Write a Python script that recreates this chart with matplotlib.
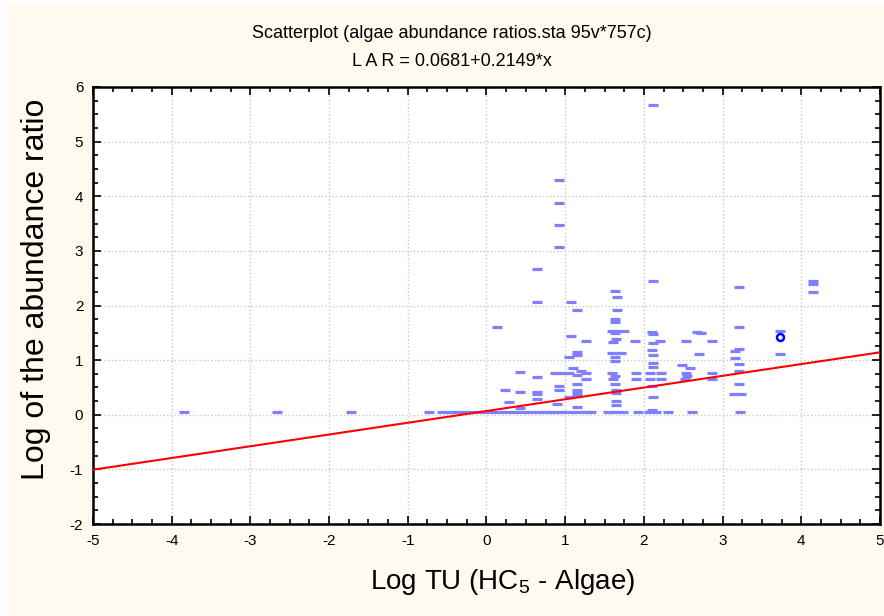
import numpy as np
import matplotlib
matplotlib.use('Agg')
import matplotlib.pyplot as plt
from matplotlib.patches import Rectangle
from matplotlib.ticker import MultipleLocator

plt.rcParams['font.family'] = ['Liberation Sans', 'DejaVu Sans']
plt.rcParams['mathtext.fontset'] = 'custom'
plt.rcParams['mathtext.rm'] = 'Liberation Sans'
plt.rcParams['axes.unicode_minus'] = False

# points sitting on the lowest row (log ratio ~ 0.05)
x_base = [-3.85, -2.66, -1.72, -0.73,
          -0.57, -0.47, -0.37, -0.27, -0.17, -0.05, 0.05, 0.15, 0.25, 0.35,
          0.45, 0.55, 0.65, 0.75, 0.85, 0.95, 1.05, 1.15, 1.25, 1.33,
          1.55, 1.63, 1.73, 1.93, 2.06, 2.16, 2.30, 2.61, 3.22]
y_base = [0.05] * len(x_base)

# remaining points
x_pts = [0.13, 0.42, 0.24, 0.42, 0.29, 0.42,
         0.64, 0.64, 0.64, 0.64, 0.64, 0.64,
         0.92, 0.92, 0.92, 0.92, 0.87, 0.96, 0.92, 0.92, 0.89,
         1.08, 1.15, 1.08, 1.26, 1.15, 1.15, 1.05, 1.10, 1.20, 1.05, 1.15,
         1.26, 1.15, 1.26, 1.15, 1.15, 1.15, 1.05, 1.15,
         1.63, 1.66, 1.66, 1.63, 1.63, 1.60, 1.66, 1.75, 1.63, 1.65, 1.61,
         1.89, 1.59, 1.71, 1.63, 1.63, 1.59, 1.63, 1.61, 1.63, 1.65, 1.65,
         1.65, 1.65, 1.90, 1.90,
         2.12, 2.12, 2.10, 2.12, 2.20, 2.12, 2.10, 2.12, 2.12, 2.12, 2.08,
         2.22, 2.08, 2.22, 2.10, 2.12, 2.10,
         2.54, 2.68, 2.72, 2.70, 2.48, 2.59, 2.54, 2.55, 2.52, 2.86, 2.86, 2.86,
         3.21, 3.21, 3.21, 3.16, 3.16, 3.21, 3.21, 3.21, 3.15, 3.23,
         3.73, 3.73,
         4.15, 4.15, 4.15]
y_pts = [1.60, 0.79, 0.46, 0.42, 0.24, 0.13,
         2.67, 2.07, 0.70, 0.42, 0.38, 0.28,
         4.30, 3.88, 3.47, 3.08, 0.76, 0.76, 0.52, 0.46, 0.19,
         2.06, 1.91, 1.45, 1.35, 1.15, 1.10, 1.05, 0.85, 0.80, 0.76, 0.72,
         0.76, 0.57, 0.65, 0.45, 0.39, 0.35, 0.33, 0.14,
         2.26, 2.15, 1.91, 1.75, 1.69, 1.53, 1.53, 1.53, 1.50, 1.38, 1.33,
         1.35, 1.13, 1.13, 1.06, 0.98, 0.76, 0.71, 0.66, 0.57, 0.45, 0.39,
         0.26, 0.17, 0.76, 0.66,
         5.67, 2.44, 1.52, 1.48, 1.35, 1.31, 1.18, 1.10, 0.94, 0.87, 0.76,
         0.76, 0.66, 0.66, 0.53, 0.33, 0.09,
         1.35, 1.52, 1.50, 1.12, 0.91, 0.86, 0.76, 0.71, 0.65, 1.35, 0.76, 0.66,
         2.34, 1.60, 1.20, 1.16, 1.04, 0.93, 0.80, 0.57, 0.38, 0.38,
         1.54, 1.12,
         2.45, 2.40, 2.24]

# highlighted case
x_sel = [3.73]
y_sel = [1.43]

# fitted line LAR = 0.0681 + 0.2149*x
intercept = 0.0681
slope = 0.2149

fig = plt.figure(figsize=(8.84, 6.16), dpi=100)
fig.patch.set_facecolor('white')
fig.patches.append(Rectangle((7 / 884, 0), 1, 1 - 5 / 616, transform=fig.transFigure,
                             facecolor='#fffaef', edgecolor='none', zorder=-10))

ax = fig.add_axes([93 / 884, 1 - 524 / 616, 787 / 884, 437 / 616])
ax.set_facecolor('white')

ax.plot(x_base + x_pts, y_base + y_pts, linestyle='none', marker='_',
        markersize=7.5, markeredgewidth=2.3, color='#8080ff', zorder=3)
ax.plot(x_sel, y_sel, linestyle='none', marker='o', markersize=5,
        markerfacecolor='white', markeredgecolor='#0000ff', markeredgewidth=1.8, zorder=4)

xl = np.array([-5, 5])
ax.plot(xl, intercept + slope * xl, color='#ff0000', linewidth=1.5, zorder=5)

ax.set_xlim(-5, 5)
ax.set_ylim(-2, 6)
ax.xaxis.set_major_locator(MultipleLocator(1))
ax.yaxis.set_major_locator(MultipleLocator(1))
ax.xaxis.set_minor_locator(MultipleLocator(0.25))
ax.yaxis.set_minor_locator(MultipleLocator(0.25))
ax.tick_params(which='both', direction='in', top=True, right=True, width=1.2,
               labelsize=11, pad=7)
ax.tick_params(which='major', length=6)
ax.tick_params(which='minor', length=3.5)
ax.grid(True, which='major', color='#c8c8c8', linestyle=':', linewidth=1)
for s in ax.spines.values():
    s.set_linewidth(1.8)

fig.text(503 / 884, 1 - 582 / 616, 'Log TU (HC$_5$ - Algae)', ha='center', va='center',
         fontsize=20)
fig.text(36 / 884, 1 - 289 / 616, 'Log of the abundance ratio', ha='center', va='center',
         rotation=90, fontsize=23)

fig.text(452 / 884, 1 - 34 / 616, 'Scatterplot (algae abundance ratios.sta 95v*757c)',
         ha='center', va='center', fontsize=13)
fig.text(452 / 884, 1 - 61 / 616, 'L A R = 0.0681+0.2149*x',
         ha='center', va='center', fontsize=13)

fig.savefig('out.png', dpi=100, facecolor=fig.get_facecolor())
